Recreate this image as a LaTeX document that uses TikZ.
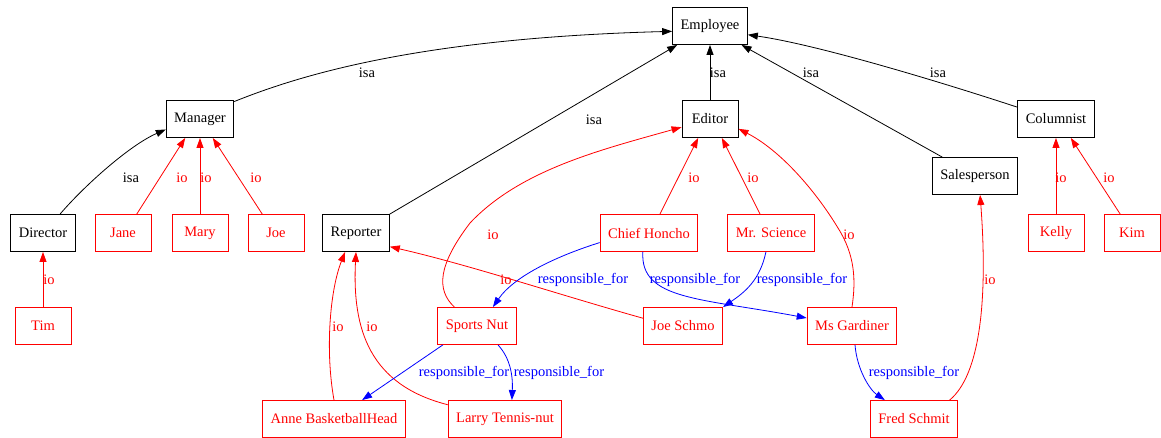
\documentclass[tikz,border=0pt]{standalone}
\usepackage{fontspec}
\setmainfont{Liberation Serif}
\usetikzlibrary{arrows.meta}

\begin{document}
\begin{tikzpicture}[x=1pt,y=-1pt,
  font=\fontsize{14.5}{16}\selectfont,
  box/.style={draw,rectangle,minimum width=56pt,minimum height=37pt,inner xsep=8pt,line width=0.9pt},
  cls/.style={box,black},
  obj/.style={box,red,text=red},
  lbl/.style={inner sep=0pt},
  tip/.style={-{Triangle[length=10pt,width=7pt]},line width=0.8pt},
  isa/.style={tip,black},
  io/.style={tip,red},
  resp/.style={tip,blue}]
\useasboundingbox (0,0) rectangle (1161,437);
\foreach \n/\x/\y/\t in {emp/710/26/Employee,mgr/200/119/Manager,edt/710/119/Editor,
  col/1056/119/Columnist,sal/975/176/Salesperson,dir/43/233/Director,rep/356/233/Reporter}
  \node[cls] (\n) at (\x,\y) {\t};
\foreach \n/\x/\y/\t in {jane/123/233/Jane,mary/200/233/Mary,joe/276/233/Joe,
  chief/649/233/Chief Honcho,sci/771/233/Mr. Science,kelly/1056/233/Kelly,kim/1132/233/Kim,
  tim/43/326/Tim,nut/477/326/Sports Nut,schmo/683/326/Joe Schmo,gard/852/326/Ms Gardiner,
  anne/334/419/Anne BasketballHead,larry/505/419/Larry Tennis-nut,fred/914/419/Fred Schmit}
  \node[obj] (\n) at (\x,\y) {\t};
% isa
\draw[isa] (mgr.27) .. controls (300,75) and (420,38) .. (emp.188) node[lbl,at={(367,73)}] {isa};
\draw[isa] (dir.48) .. controls (85,185) and (130,145) .. (mgr.197) node[lbl,at={(131,178)}] {isa};
\draw[isa] (rep.north east) -- (emp.210) node[lbl,at={(594,120)}] {isa};
\draw[isa] (edt.north) -- (emp.south) node[lbl,at={(718,73)}] {isa};
\draw[isa] (sal.150) -- (emp.329) node[lbl,at={(811,73)}] {isa};
\draw[isa] (col.163) .. controls (950,85) and (820,45) .. (emp.347) node[lbl,at={(938,73)}] {isa};
% io
\draw[io] (tim.north) -- (dir.south) node[lbl,at={(49,280)}] {io};
\draw[io] (jane.54) -- (mgr.232) node[lbl,at={(182,178)}] {io};
\draw[io] (mary.north) -- (mgr.south) node[lbl,at={(206,178)}] {io};
\draw[io] (joe.126) -- (mgr.304) node[lbl,at={(256,178)}] {io};
\draw[io] (chief.60) -- (edt.238) node[lbl,at={(694,178)}] {io};
\draw[io] (sci.120) -- (edt.302) node[lbl,at={(753,178)}] {io};
\draw[io] (nut.140) .. controls (436,290) and (438,265) .. (470,223)
  .. controls (520,170) and (600,150) .. (edt.196) node[lbl,at={(493,235)}] {io};
\draw[io] (gard.north) .. controls (856,280) and (855,255) .. (838,228)
  .. controls (815,190) and (780,150) .. (edt.-19) node[lbl,at={(849,235)}] {io};
\draw[io] (schmo.169) .. controls (560,295) and (470,265) .. (rep.-22) node[lbl,at={(506,280)}] {io};
\draw[io] (anne.north) .. controls (325,350) and (330,290) .. (rep.240) node[lbl,at={(338,327)}] {io};
\draw[io] (larry.166) .. controls (370,385) and (352,330) .. (rep.south) node[lbl,at={(372,327)}] {io};
\draw[io] (fred.28) .. controls (980,375) and (988,300) .. (sal.-75) node[lbl,at={(990,280)}] {io};
\draw[io] (kelly.north) -- (col.south) node[lbl,at={(1061,178)}] {io};
\draw[io] (kim.122) -- (col.308) node[lbl,at={(1109,178)}] {io};
% responsible_for
\draw[resp] (chief.191) .. controls (560,255) and (515,275) .. (nut.50) node[lbl,at={(583,280)}] {responsible\_for};
\draw[resp] (chief.252) .. controls (640,300) and (700,298) .. (gard.170) node[lbl,at={(695,280)}] {responsible\_for};
\draw[resp] (sci.255) .. controls (760,280) and (745,292) .. (schmo.north east) node[lbl,at={(802,280)}] {responsible\_for};
\draw[resp] (nut.209) -- (anne.34) node[lbl,at={(464,373)}] {responsible\_for};
\draw[resp] (nut.318) .. controls (510,358) and (513,375) .. (larry.70) node[lbl,at={(559,373)}] {responsible\_for};
\draw[resp] (gard.279) .. controls (857,370) and (870,390) .. (fred.147) node[lbl,at={(914,373)}] {responsible\_for};
\end{tikzpicture}
\end{document}
